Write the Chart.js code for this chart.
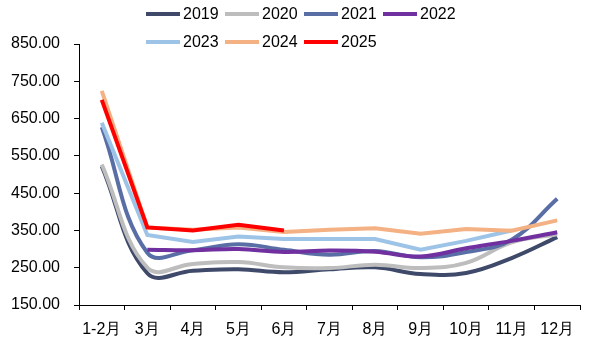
<!DOCTYPE html>
<html lang="zh">
<head>
    <meta charset="UTF-8">
    <title>chart</title>
    <script src="https://cdn.jsdelivr.net/npm/chart.js"></script>
    <style>
        body { margin: 0; background: #fff; }
        #wrap { position: relative; width: 598px; height: 352px; }
        #legend {
            position: absolute; left: 146px; top: 0; width: 316px;
            display: flex; flex-wrap: wrap;
            font: 16px "Liberation Sans", Arial, sans-serif; color: #000;
        }
        .item { display: flex; align-items: center; width: 79px; height: 28px; }
        .swatch { width: 34px; height: 4px; margin-right: 3px; }
    </style>
</head>
<body>
<div id="wrap">
    <canvas id="myChart" width="598" height="352"></canvas>
    <div id="legend"></div>
</div>

<script>
    const labels = ['1-2月', '3月', '4月', '5月', '6月', '7月', '8月', '9月', '10月', '11月', '12月'];

    const y2019 = [522, 235, 242, 246, 238, 246, 251, 233, 236, 276, 332];
    const y2020 = [527, 250, 260, 265, 251, 249, 258, 249, 263, 318, 340];
    const y2021 = [627, 290, 297, 313, 298, 285, 295, 278, 292, 325, 435];
    const y2022 = [null, 298, 297, 300, 292, 296, 293, 280, 302, 322, 345];
    const y2023 = [639, 338, 319, 334, 327, 327, 327, 298, 322, 350, null];
    const y2024 = [724, 358, 352, 358, 346, 352, 356, 341, 354, 349, 377];
    const y2025 = [700, 358, 350, 365, 350, null, null, null, null, null, null];

    const years = ['2019', '2020', '2021', '2022', '2023', '2024', '2025'];
    const series = [y2019, y2020, y2021, y2022, y2023, y2024, y2025];
    const colors = ['#3f4a6b', '#bdbdbd', '#5a6ea6', '#7030a0', '#9dc3e6', '#f4b183', '#ff0000'];
    // 2019-2022 smoothed, 2023-2025 straight segments
    const tensions = [0.4, 0.4, 0.4, 0.4, 0, 0, 0];

    const datasets = years.map((y, i) => ({
        label: y,
        data: series[i],
        borderColor: colors[i],
        backgroundColor: colors[i],
        borderWidth: 4,
        pointRadius: 0,
        tension: tensions[i],
        order: years.length - i   // later years drawn on top
    }));

    // legend
    const leg = document.getElementById('legend');
    years.forEach((y, i) => {
        const it = document.createElement('div');
        it.className = 'item';
        it.innerHTML = '<span class="swatch" style="background:' + colors[i] + '"></span>' + y;
        leg.appendChild(it);
    });

    const font = { family: '"Liberation Sans", Arial, sans-serif', size: 16 };

    new Chart(document.getElementById('myChart'), {
        type: 'line',
        data: { labels: labels, datasets: datasets },
        options: {
            responsive: false,
            animation: false,
            layout: { padding: { top: 44, right: 18, left: 0, bottom: 0 } },
            plugins: { legend: { display: false }, tooltip: { enabled: false } },
            scales: {
                x: {
                    offset: true,
                    grid: { offset: true, drawOnChartArea: false, tickLength: 5, color: '#000' },
                    border: { color: '#000', width: 1 },
                    ticks: { color: '#000', font: font, padding: 10, maxRotation: 0, autoSkip: false },
                    afterFit: (s) => { s.height = 47; }
                },
                y: {
                    min: 150,
                    max: 850,
                    grid: { drawOnChartArea: false, tickLength: 5, color: '#000' },
                    border: { color: '#000', width: 1 },
                    ticks: {
                        stepSize: 100,
                        color: '#000',
                        font: font,
                        padding: 14,
                        callback: (v) => v.toFixed(2)
                    },
                    afterFit: (s) => { s.width = 79; }
                }
            }
        }
    });
</script>
</body>
</html>
